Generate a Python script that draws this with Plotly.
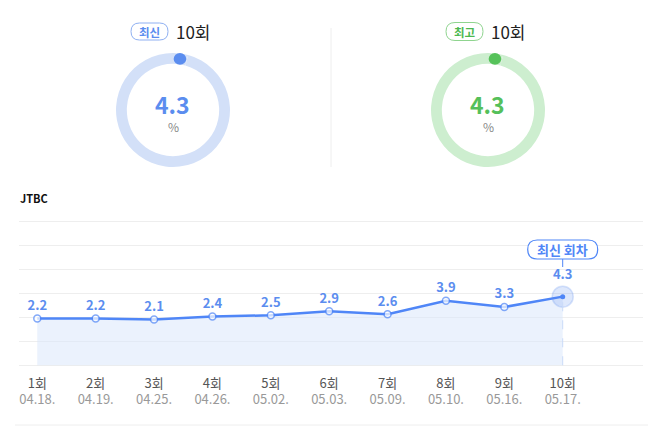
import math
import plotly.graph_objects as go

# ---------------- data ----------------
episodes = ["1회", "2회", "3회", "4회", "5회", "6회", "7회", "8회", "9회", "10회"]
dates = ["04.18.", "04.19.", "04.25.", "04.26.", "05.02.", "05.03.", "05.09.", "05.10.", "05.16.", "05.17."]
ratings = [2.2, 2.2, 2.1, 2.4, 2.5, 2.9, 2.6, 3.9, 3.3, 4.3]
grid_vals = [-2.3, 0, 2.3, 4.6, 6.9, 9.2, 11.5]
latest_ep = "10회"
latest_val = 4.3
best_ep = "10회"
best_val = 4.3
channel = "JTBC"

# page is rendered with an 8px body margin -> figure is smaller and all
# pixel positions below are given in window pixels (offset OFF)
OFF = 8
WIN_W, WIN_H = 662, 431
W, H = WIN_W - OFF, WIN_H - OFF
FONT = "Noto Sans CJK KR, Noto Sans, sans-serif"
BLUE = "#5b8def"
LINE_BLUE = "#4f86f7"
GREEN = "#55c05a"

idx = list(range(len(episodes)))
YMIN, YMAX = grid_vals[0], grid_vals[-1]

fig = go.Figure()


def px_x(p):
    return (p - OFF) / W


def px_y(p):
    return (WIN_H - p) / H


# ---------------- donuts ----------------
def donut(cx, cy, r, val, dark, light):
    fig.add_trace(go.Pie(
        values=[val, 100 - val],
        marker=dict(colors=[light, light], line=dict(width=0)),
        hole=0.81, sort=False, direction="clockwise", rotation=0,
        textinfo="none", hoverinfo="skip", showlegend=False,
        domain=dict(x=[px_x(cx - r), px_x(cx + r)], y=[px_y(cy + r), px_y(cy - r)]),
    ))
    # progress cap: round dot on the ring at the value's arc
    rm = r * (1 + 0.81) / 2
    ang = 2 * math.pi * (val / 100) / 2
    dx, dy = cx + rm * math.sin(ang), cy - rm * math.cos(ang)
    d = 6.3
    fig.add_shape(type="circle", xref="x2", yref="y2",
                  x0=dx - d, x1=dx + d, y0=dy - d * 0.95, y1=dy + d * 0.95,
                  fillcolor=dark, line=dict(width=0), layer="above")


donut(173, 110, 57, latest_val, "#5b8def", "#d3e0f8")
donut(488, 110, 57, best_val, "#56c25a", "#cdeecf")

# ---------------- main chart ----------------
fig.add_trace(go.Scatter(
    x=idx, y=[YMIN] * len(idx), mode="lines", line=dict(width=0),
    hoverinfo="skip", showlegend=False, xaxis="x", yaxis="y",
))
n = len(idx)
fig.add_trace(go.Scatter(
    x=idx, y=ratings, mode="lines+markers+text",
    fill="tonexty", fillcolor="rgba(215,229,251,0.5)",
    line=dict(color=LINE_BLUE, width=2.5),
    marker=dict(
        size=[7] * (n - 1) + [21],
        color=["white"] * (n - 1) + ["rgba(91,141,239,0.28)"],
        line=dict(color=[LINE_BLUE] * (n - 1) + ["rgba(91,141,239,0.35)"], width=1.5),
    ),
    text=[f"{v:.1f}" for v in ratings], textposition="top center",
    textfont=dict(family=FONT, size=13, color=BLUE, weight="bold"),
    hoverinfo="skip", showlegend=False, xaxis="x", yaxis="y",
))
fig.add_trace(go.Scatter(
    x=[idx[-1], idx[-1]], y=[YMIN, ratings[-1]], mode="lines",
    line=dict(color="#c9daf8", width=1, dash="dash"),
    hoverinfo="skip", showlegend=False, xaxis="x", yaxis="y",
))
fig.add_trace(go.Scatter(
    x=[idx[-1]], y=[ratings[-1]], mode="markers",
    marker=dict(size=5, color=LINE_BLUE),
    hoverinfo="skip", showlegend=False, xaxis="x", yaxis="y",
))

ticktext = [f'<span style="color:#555">{e}</span><br><span style="color:#999">{d}</span>'
            for e, d in zip(episodes, dates)]

X0, X1 = 19.3, 643
Y0, Y1 = 221.7, 365.3
P0, P9 = 37.3, 562.7
step = (P9 - P0) / 9
yscale = (Y1 - Y0) / (YMAX - YMIN)
PAD = 0.6
fig.update_layout(
    width=W, height=H, autosize=False,
    margin=dict(l=0, r=0, t=0, b=0),
    paper_bgcolor="white", plot_bgcolor="rgba(0,0,0,0)",
    font=dict(family=FONT),
    xaxis=dict(
        domain=[px_x(X0), px_x(X1)],
        range=[-(P0 - X0) / step, 9 + (X1 - P9) / step],
        tickmode="array", tickvals=idx, ticktext=ticktext,
        tickfont=dict(family=FONT, size=13),
        showgrid=False, zeroline=False, showline=False, ticks="",
        ticklabelstandoff=int(round(8 - PAD * yscale)), anchor="y", fixedrange=True,
    ),
    yaxis=dict(
        domain=[px_y(Y1 + PAD * yscale), px_y(Y0 - PAD * yscale)],
        range=[YMIN - PAD, YMAX + PAD],
        tickmode="array", tickvals=grid_vals, showticklabels=False,
        showgrid=True, gridcolor="#eeeeee", gridwidth=1,
        zeroline=False, showline=False, anchor="x", fixedrange=True,
    ),
    xaxis2=dict(domain=[0, 1], range=[OFF, WIN_W], visible=False, anchor="y2", fixedrange=True),
    yaxis2=dict(domain=[0, 1], range=[WIN_H, OFF], visible=False, anchor="x2", fixedrange=True),
)


# ---------------- decorations (window-pixel space) ----------------
def pill(x0, y0, x1, y1, color, width=1, fill="white"):
    r = (y1 - y0) / 2
    path = (f"M {x0 + r},{y0} L {x1 - r},{y0} Q {x1},{y0} {x1},{y0 + r} "
            f"Q {x1},{y1} {x1 - r},{y1} L {x0 + r},{y1} Q {x0},{y1} {x0},{y0 + r} "
            f"Q {x0},{y0} {x0 + r},{y0} Z")
    fig.add_shape(type="path", path=path, xref="x2", yref="y2",
                  line=dict(color=color, width=width), fillcolor=fill, layer="above")


def text(x, y, s, size, color, bold=False, xanchor="center"):
    fig.add_annotation(x=x, y=y, xref="x2", yref="y2", text=s, showarrow=False,
                       xanchor=xanchor, yanchor="middle",
                       font=dict(family=FONT, size=size, color=color,
                                 weight="bold" if bold else "normal"))


# badges
pill(131, 23, 168, 40, "#8fb0f2")
text(149.5, 31.5, "최신", 11.5, BLUE, bold=True)
text(174, 31, latest_ep, 17, "#222", xanchor="left")
pill(446, 22.5, 483, 40.5, "#8fd48f")
text(464.5, 31.5, "최고", 11.5, "#4cb84f", bold=True)
text(489, 31, best_ep, 17, "#222", xanchor="left")

# centre values
text(172.5, 103.5, f"{latest_val:.1f}", 23, BLUE, bold=True)
text(173, 126, "%", 12, "#888")
text(487.5, 103.5, f"{best_val:.1f}", 23, GREEN, bold=True)
text(488, 126, "%", 12, "#888")

# divider
fig.add_shape(type="line", xref="x2", yref="y2", x0=331, x1=331, y0=28, y1=167,
              line=dict(color="#eeeeee", width=1))
# channel title
text(18, 198, channel, 11, "#111", bold=True, xanchor="left")
# bottom separator
fig.add_shape(type="line", xref="x2", yref="y2", x0=15, x1=648, y0=425, y1=425,
              line=dict(color="#eeeeee", width=1))

# latest-episode bubble
bx = P9
fig.add_shape(type="line", xref="x2", yref="y2", x0=bx, x1=bx, y0=259, y1=267,
              line=dict(color=LINE_BLUE, width=1), layer="above")
pill(bx - 35, 240, bx + 35, 259, LINE_BLUE, width=1.2)
text(bx, 249.5, "최신 회차", 13, LINE_BLUE, bold=True)

fig.write_html("out.html")
